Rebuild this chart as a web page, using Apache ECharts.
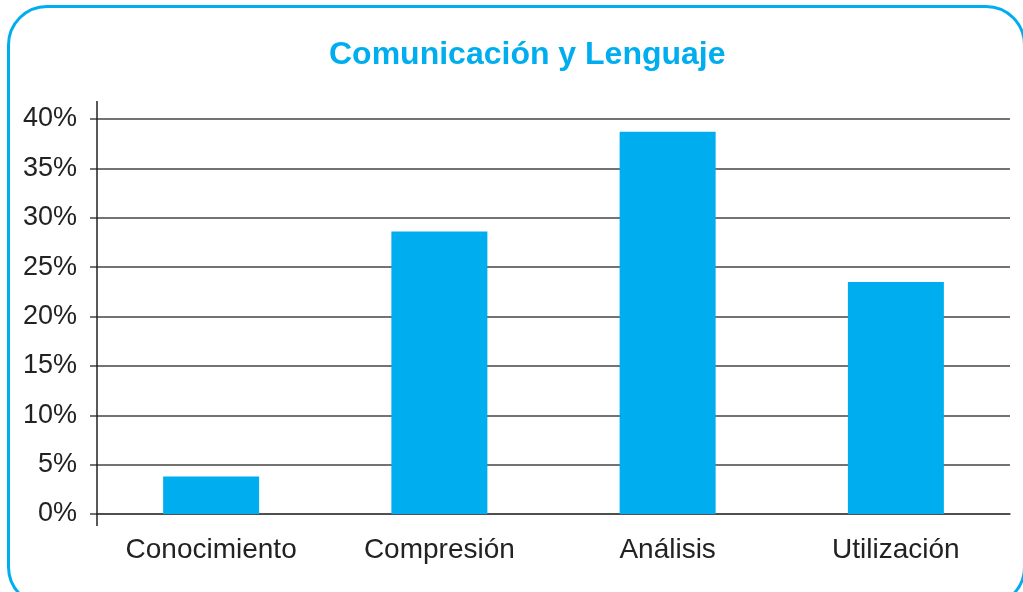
<!DOCTYPE html>
<html>
<head>
<meta charset="utf-8">
<script src="https://cdn.jsdelivr.net/npm/echarts@6/dist/echarts.min.js"></script>
<style>
  html, body { margin: 0; padding: 0; background: #fff; overflow: hidden; }
  #box {
    position: absolute; left: 7px; top: 5px; width: 1019px; height: 602px;
    border: 3px solid #00aeef; border-radius: 40px; box-sizing: border-box;
  }
  #chart { position: absolute; left: 0; top: 0; width: 1023px; height: 592px; }
</style>
</head>
<body>
<div id="box"></div>
<div id="chart"></div>
<script>
var categories = ['Conocimiento', 'Compresión', 'Análisis', 'Utilización'];
var values = [3.8, 28.6, 38.7, 23.5];
var yTicks = [0, 5, 10, 15, 20, 25, 30, 35, 40];

var myChart = echarts.init(document.getElementById('chart'));

var option = {
  backgroundColor: 'transparent',
  animation: false,
  title: {
    text: 'Comunicación y Lenguaje',
    left: 324,
    top: 34,
    textStyle: {
      color: '#00aeef',
      fontFamily: "'Liberation Sans', Arial",
      fontWeight: 'bold',
      fontSize: 32
    }
  },
  grid: {
    left: 97,
    right: 13,
    top: 119,
    bottom: 78
  },
  xAxis: {
    type: 'category',
    data: categories,
    axisLine: { show: true, lineStyle: { color: '#444', width: 1.5 } },
    axisTick: { show: false },
    axisLabel: {
      margin: 22,
      color: '#222',
      fontFamily: "'Liberation Sans', Arial",
      fontSize: 28
    }
  },
  yAxis: {
    type: 'value',
    min: yTicks[0],
    max: yTicks[yTicks.length - 1],
    interval: 5,
    axisLine: { show: false },
    axisTick: { show: true, length: 7, lineStyle: { color: '#444', width: 1.5 } },
    splitLine: { lineStyle: { color: '#444', width: 1.5 } },
    axisLabel: {
      margin: 20,
      color: '#222',
      fontFamily: "'Liberation Sans', Arial",
      fontSize: 27,
      formatter: '{value}%'
    }
  },
  series: [{
    type: 'bar',
    data: values,
    barWidth: 96,
    itemStyle: { color: '#00aeef' }
  }]
};
myChart.setOption(option);

// vertical axis line runs a bit past the plot area at both ends
var top40 = myChart.convertToPixel({ yAxisIndex: 0 }, 40);
var bot0 = myChart.convertToPixel({ yAxisIndex: 0 }, 0);
myChart.setOption({
  graphic: [{
    type: 'line',
    shape: { x1: 97, y1: top40 - 18, x2: 97, y2: bot0 + 12 },
    style: { stroke: '#222', lineWidth: 1.5 },
    z: 10
  }]
});
</script>
</body>
</html>
